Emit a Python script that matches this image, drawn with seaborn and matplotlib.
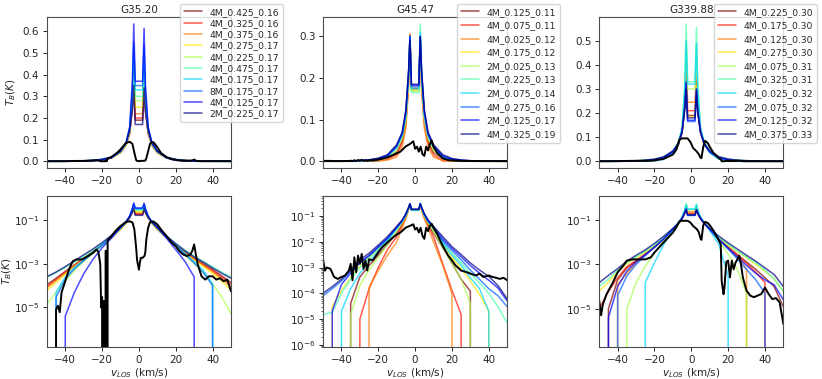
import matplotlib
matplotlib.use("Agg")
import matplotlib.pyplot as plt
import numpy as np
import pandas as pd
import seaborn as sns
from matplotlib.ticker import NullLocator

# velocity grid shared by the model spectra (km/s)
V_MODEL = [-50, -45, -40, -35, -30, -25, -20, -15, -10, -7, -5, -3.5, -2.8, -2, 0,
           2, 2.8, 3.5, 5, 7, 10, 15, 20, 25, 30, 35, 40, 45, 50]

# ---- G35.20 ----
G35_NAMES = ["4M_0.425_0.16", "4M_0.325_0.16", "4M_0.375_0.16", "4M_0.275_0.17", "4M_0.225_0.17",
             "4M_0.475_0.17", "4M_0.175_0.17", "8M_0.175_0.17", "4M_0.125_0.17", "2M_0.225_0.17"]
G35_MODELS = [
    [1.1e-4, 2.2e-4, 4.5e-4, 9e-4, 1.8e-3, 3.6e-3, 7.5e-3, 1.6e-2, 4e-2, 7.5e-2, 0.13, 0.25, 0.40, 0.19, 0.19,
     0.19, 0.39, 0.24, 0.13, 0.075, 0.04, 1.6e-2, 7e-3, 3.4e-3, 1.8e-3, 1e-3, 5.5e-4, 2.8e-4, 1.4e-4],
    [9e-5, 1.9e-4, 4e-4, 8.5e-4, 1.7e-3, 3.5e-3, 7.3e-3, 1.6e-2, 4e-2, 7.5e-2, 0.13, 0.26, 0.42, 0.20, 0.20,
     0.20, 0.41, 0.25, 0.13, 0.075, 0.04, 1.6e-2, 6.8e-3, 3.3e-3, 1.7e-3, 9e-4, 4.8e-4, 2.4e-4, 1.1e-4],
    [8e-5, 1.7e-4, 3.7e-4, 8e-4, 1.6e-3, 3.4e-3, 7.2e-3, 1.6e-2, 4e-2, 7.6e-2, 0.135, 0.27, 0.44, 0.22, 0.22,
     0.22, 0.43, 0.26, 0.135, 0.076, 0.04, 1.6e-2, 6.7e-3, 3.2e-3, 1.6e-3, 8.5e-4, 4.3e-4, 2e-4, 9e-5],
    [6e-5, 1.4e-4, 3.3e-4, 7.5e-4, 1.5e-3, 3.3e-3, 7.1e-3, 1.6e-2, 4.1e-2, 7.7e-2, 0.14, 0.28, 0.46, 0.25, 0.25,
     0.25, 0.45, 0.27, 0.14, 0.077, 0.041, 1.6e-2, 6.6e-3, 3e-3, 1.5e-3, 7.5e-4, 3.6e-4, 1.6e-4, 6e-5],
    [1.4e-5, 5e-5, 1.6e-4, 5e-4, 1.3e-3, 3e-3, 7e-3, 1.6e-2, 4.2e-2, 7.8e-2, 0.14, 0.29, 0.48, 0.28, 0.28,
     0.28, 0.47, 0.28, 0.14, 0.078, 0.042, 1.6e-2, 6.3e-3, 2.6e-3, 1e-3, 4e-4, 1.2e-4, 3e-5, 5e-6],
    [2.4e-4, 4e-4, 7e-4, 1.2e-3, 2.2e-3, 4.2e-3, 8.5e-3, 1.8e-2, 4.4e-2, 8e-2, 0.145, 0.30, 0.50, 0.30, 0.30,
     0.30, 0.49, 0.29, 0.145, 0.08, 0.044, 1.8e-2, 8.5e-3, 4.2e-3, 2.3e-3, 1.3e-3, 7.5e-4, 4.2e-4, 2.5e-4],
    [0, 5e-5, 2.5e-4, 7e-4, 1.5e-3, 3.4e-3, 7.5e-3, 1.7e-2, 4.5e-2, 8.2e-2, 0.15, 0.32, 0.53, 0.33, 0.33,
     0.33, 0.52, 0.31, 0.15, 0.082, 0.045, 1.7e-2, 7e-3, 3e-3, 1.3e-3, 5e-4, 1.2e-4, 0, 0],
    [0, 3e-5, 2e-4, 6e-4, 1.4e-3, 3.2e-3, 7.3e-3, 1.7e-2, 4.6e-2, 8.4e-2, 0.155, 0.34, 0.55, 0.35, 0.35,
     0.35, 0.54, 0.32, 0.155, 0.084, 0.046, 1.7e-2, 6.8e-3, 2.8e-3, 1.1e-3, 4e-4, 1e-4, 0, 0],
    [0, 0, 4e-6, 5e-5, 3.5e-4, 1.6e-3, 5.5e-3, 1.5e-2, 4.7e-2, 8.6e-2, 0.16, 0.38, 0.635, 0.37, 0.37,
     0.37, 0.615, 0.36, 0.16, 0.086, 0.047, 1.5e-2, 4.5e-3, 1.3e-3, 2.5e-4, 0, 0, 0, 0],
    [2.6e-4, 4.2e-4, 7.5e-4, 1.4e-3, 2.6e-3, 4.8e-3, 9.5e-3, 2e-2, 4.8e-2, 8.5e-2, 0.14, 0.24, 0.35, 0.17, 0.17,
     0.17, 0.34, 0.23, 0.14, 0.085, 0.047, 1.9e-2, 8.5e-3, 4e-3, 2.1e-3, 1.2e-3, 6.5e-4, 3.7e-4, 2.2e-4],
]
G35_OBS_V = [-50, -45.5, -45, -44, -43, -42, -40, -38, -36, -34, -31, -28, -25, -23, -22, -21, -20.5, -20,
             -19.5, -19, -18.5, -18, -17.5, -17, -15, -12, -10, -7, -5, -3.5, -2.5, -1.5, -1, 0, 0.5, 1, 2,
             3, 3.5, 4, 5, 6, 7, 8, 10, 12, 15, 18, 20, 22, 24, 26, 28, 29, 30, 31, 32, 34, 36, 38, 40, 42,
             44, 46, 48, 50]
G35_OBS_T = [0, 0, 8e-6, 1.2e-5, 6e-6, 5e-5, 1.6e-4, 5.5e-4, 1.3e-3, 1.6e-3, 1.6e-3, 2.2e-3, 3.2e-3, 4.6e-3,
             3.5e-3, 1e-3, 1e-5, 3e-5, 0, 2e-5, 0, 4e-3, 0, 1.2e-2, 1.9e-2, 3.8e-2, 5.5e-2, 0.085, 0.09,
             0.08, 0.04, 5.5e-3, 1.5e-3, 5.4e-4, 1.1e-3, 1.9e-3, 1.9e-3, 2.3e-3, 3.5e-3, 1.3e-2, 4.6e-2,
             0.08, 0.09, 0.087, 0.065, 0.038, 0.019, 9e-3, 6.5e-3, 3.8e-3, 2.7e-3, 2.3e-3, 2.7e-3, 4e-3,
             7.8e-3, 2.5e-3, 9.3e-4, 2.7e-4, 1.9e-4, 2.7e-4, 2.7e-4, 1.9e-4, 2.2e-4, 1.6e-4, 1.9e-4, 5.5e-5]

# ---- G45.47 ----
G45_NAMES = ["4M_0.125_0.11", "4M_0.075_0.11", "4M_0.025_0.12", "4M_0.175_0.12", "2M_0.025_0.13",
             "4M_0.225_0.13", "2M_0.075_0.14", "4M_0.275_0.16", "2M_0.125_0.17", "4M_0.325_0.19"]
G45_MODELS = [
    [0, 0, 0, 4e-5, 4.3e-4, 1.2e-3, 3e-3, 8e-3, 2.2e-2, 5e-2, 0.1, 0.2, 0.305, 0.175, 0.175,
     0.175, 0.29, 0.19, 0.1, 0.05, 2.2e-2, 6e-3, 1.5e-3, 3.5e-4, 1.2e-4, 0, 0, 0, 0],
    [0, 0, 0, 0, 1e-5, 1.5e-4, 1e-3, 5e-3, 1.6e-2, 4.5e-2, 0.09, 0.19, 0.30, 0.175, 0.175,
     0.175, 0.29, 0.18, 0.09, 0.045, 1.6e-2, 1.4e-3, 1.3e-4, 1.5e-5, 0, 0, 0, 0, 0],
    [0, 0, 0, 0, 0, 1.7e-4, 7.7e-4, 3e-3, 1e-2, 3.5e-2, 0.08, 0.18, 0.305, 0.17, 0.17,
     0.17, 0.29, 0.17, 0.08, 0.035, 1e-2, 1.2e-3, 1e-4, 0, 0, 0, 0, 0, 0],
    [0, 3e-5, 1.3e-4, 4e-4, 1.1e-3, 2.4e-3, 5.2e-3, 1.2e-2, 3.2e-2, 6e-2, 0.105, 0.2, 0.295, 0.17, 0.17,
     0.17, 0.295, 0.2, 0.105, 0.06, 3e-2, 8e-3, 2.5e-3, 9e-4, 3e-4, 9e-5, 2e-5, 0, 0],
    [0, 0, 0, 1.5e-5, 2e-4, 8e-4, 2.5e-3, 8e-3, 2.6e-2, 5.5e-2, 0.1, 0.2, 0.3, 0.17, 0.17,
     0.17, 0.3, 0.19, 0.1, 0.055, 2.5e-2, 6e-3, 1.5e-3, 3.5e-4, 4e-5, 0, 0, 0, 0],
    [1.5e-5, 1.8e-5, 1e-4, 3.5e-4, 1e-3, 2.4e-3, 5.5e-3, 1.2e-2, 3.3e-2, 6.2e-2, 0.11, 0.21, 0.30, 0.165, 0.165,
     0.165, 0.33, 0.21, 0.11, 0.062, 3.3e-2, 1e-2, 3.5e-3, 1.5e-3, 6e-4, 2.5e-4, 1e-4, 3e-5, 7e-6],
    [0, 0, 2e-5, 1.5e-4, 6e-4, 1.6e-3, 4.5e-3, 1.1e-2, 3.3e-2, 6.3e-2, 0.11, 0.21, 0.30, 0.175, 0.175,
     0.175, 0.31, 0.21, 0.11, 0.063, 3.3e-2, 9e-3, 3e-3, 1.2e-3, 4e-4, 1.5e-4, 2e-5, 0, 0],
    [8e-5, 1.5e-4, 3e-4, 7e-4, 1.5e-3, 2.8e-3, 6e-3, 1.3e-2, 3.5e-2, 6.5e-2, 0.115, 0.21, 0.30, 0.18, 0.18,
     0.18, 0.30, 0.21, 0.115, 0.065, 3.5e-2, 1.1e-2, 4.5e-3, 2e-3, 8e-4, 3.5e-4, 1.5e-4, 8e-5, 3e-5],
    [0, 2e-5, 2.2e-4, 6e-4, 1.6e-3, 3e-3, 6.5e-3, 1.4e-2, 3.7e-2, 6.8e-2, 0.12, 0.22, 0.30, 0.183, 0.183,
     0.183, 0.30, 0.22, 0.12, 0.068, 3.7e-2, 1.3e-2, 5.5e-3, 2.6e-3, 1.2e-3, 6e-4, 3.2e-4, 1.6e-4, 5e-5],
    [1e-4, 1.8e-4, 3.5e-4, 8e-4, 2e-3, 3.6e-3, 7.5e-3, 1.6e-2, 4e-2, 7e-2, 0.125, 0.22, 0.29, 0.185, 0.185,
     0.185, 0.30, 0.22, 0.125, 0.07, 4e-2, 1.6e-2, 6.5e-3, 3.2e-3, 1.5e-3, 8e-4, 4.5e-4, 2e-4, 6e-5],
]
G45_OBS_V = [-50, -49, -48, -46, -44, -42, -40, -38, -36, -35, -34, -33, -32, -31, -30, -29, -28, -27, -26,
             -25, -23, -20, -18, -15, -12, -10, -8, -5, -3, -1, 0, 1, 2, 3, 4, 5, 6, 7, 8, 9, 10, 12, 15,
             18, 20, 22, 25, 28, 30, 33, 35, 37, 40, 42, 44, 46, 48, 50]
G45_OBS_T = [2.1e-3, 7.6e-4, 1e-3, 8.9e-4, 4.3e-4, 3.6e-4, 4.3e-4, 4.9e-4, 7.6e-4, 1.4e-3, 3.2e-4, 2.5e-3,
             6.6e-4, 2.9e-3, 1.4e-3, 3.4e-3, 8.9e-4, 1.9e-3, 7.6e-4, 2.1e-3, 1.9e-3, 3.9e-3, 6e-3, 9.5e-3,
             1.5e-2, 1.9e-2, 2.3e-2, 3.6e-2, 4.1e-2, 4.8e-2, 3e-2, 3.5e-2, 2.3e-2, 3.5e-2, 1.7e-2, 1.3e-2,
             3.5e-2, 2.6e-2, 4.1e-2, 5e-2, 3.5e-2, 2e-2, 7e-3, 2.9e-3, 1.9e-3, 1.2e-3, 7.6e-4, 6.6e-4,
             5.8e-4, 4.9e-4, 5.8e-4, 4.3e-4, 4.9e-4, 4.3e-4, 4e-4, 3.6e-4, 4e-4, 3.2e-4]

# ---- G339.88 ----
G339_NAMES = ["4M_0.225_0.30", "4M_0.175_0.30", "4M_0.125_0.30", "4M_0.275_0.30", "4M_0.075_0.31",
              "4M_0.325_0.31", "4M_0.025_0.32", "2M_0.075_0.32", "2M_0.125_0.32", "4M_0.375_0.33"]
G339_MODELS = [
    [0, 1e-5, 2e-4, 7e-4, 1.4e-3, 2.8e-3, 6e-3, 1.4e-2, 3.8e-2, 7e-2, 0.12, 0.22, 0.30, 0.19, 0.19,
     0.19, 0.29, 0.21, 0.12, 0.07, 3.8e-2, 1.4e-2, 6e-3, 2.8e-3, 1.3e-3, 6e-4, 2.5e-4, 1e-4, 1.2e-5],
    [1e-5, 6e-5, 2.5e-4, 8e-4, 1.5e-3, 3e-3, 6.2e-3, 1.4e-2, 3.8e-2, 7e-2, 0.12, 0.24, 0.36, 0.21, 0.21,
     0.21, 0.34, 0.22, 0.12, 0.07, 3.8e-2, 1.4e-2, 6e-3, 2.6e-3, 1.1e-3, 4.5e-4, 1.5e-4, 0, 0],
    [0, 0, 1.2e-4, 4e-4, 1.2e-3, 2.7e-3, 6e-3, 1.4e-2, 3.9e-2, 7.2e-2, 0.125, 0.26, 0.42, 0.245, 0.245,
     0.245, 0.36, 0.25, 0.125, 0.072, 3.9e-2, 1.4e-2, 5.5e-3, 2.2e-3, 6e-4, 0, 0, 0, 0],
    [6e-5, 1.6e-4, 4.5e-4, 1.1e-3, 2e-3, 3.6e-3, 7e-3, 1.5e-2, 3.9e-2, 7.2e-2, 0.125, 0.23, 0.33, 0.185, 0.185,
     0.185, 0.31, 0.21, 0.125, 0.072, 3.9e-2, 1.5e-2, 7.5e-3, 3.8e-3, 2e-3, 1e-3, 5e-4, 2.2e-4, 6e-5],
    [0, 0, 0, 1e-5, 1.5e-4, 8e-4, 3.5e-3, 1.2e-2, 3.8e-2, 7.5e-2, 0.13, 0.3, 0.5, 0.3, 0.3,
     0.3, 0.48, 0.29, 0.13, 0.075, 3.8e-2, 1.2e-2, 3e-3, 6e-4, 5e-5, 0, 0, 0, 0],
    [1e-4, 2.2e-4, 5.5e-4, 1.2e-3, 2.2e-3, 4e-3, 8e-3, 1.7e-2, 4.2e-2, 8e-2, 0.14, 0.33, 0.57, 0.33, 0.33,
     0.33, 0.555, 0.32, 0.14, 0.08, 4.2e-2, 1.7e-2, 8e-3, 4e-3, 2.2e-3, 1.2e-3, 5.5e-4, 2.2e-4, 6e-5],
    [0, 0, 0, 0, 0, 1.5e-4, 1.2e-3, 8e-3, 3.5e-2, 7.5e-2, 0.135, 0.3, 0.5, 0.32, 0.32,
     0.32, 0.49, 0.3, 0.135, 0.075, 3.5e-2, 8e-3, 3e-4, 0, 0, 0, 0, 0, 0],
    [0, 0, 4e-5, 3e-4, 1e-3, 2.5e-3, 6e-3, 1.4e-2, 3.9e-2, 7.2e-2, 0.125, 0.23, 0.32, 0.165, 0.165,
     0.165, 0.3, 0.21, 0.125, 0.072, 3.8e-2, 1.3e-2, 5e-3, 1.8e-3, 6e-4, 2e-4, 5e-5, 0, 0],
    [0, 4e-6, 1e-4, 5e-4, 1.3e-3, 2.8e-3, 6.2e-3, 1.45e-2, 4e-2, 7.3e-2, 0.125, 0.23, 0.33, 0.17, 0.17,
     0.17, 0.3, 0.21, 0.125, 0.073, 4e-2, 1.4e-2, 5.5e-3, 2.2e-3, 9e-4, 4e-4, 2e-4, 1.2e-4, 2.5e-5],
    [1.5e-4, 3.2e-4, 6.5e-4, 1.4e-3, 2.6e-3, 4.6e-3, 9e-3, 1.9e-2, 4.3e-2, 7.5e-2, 0.12, 0.22, 0.30, 0.18, 0.18,
     0.18, 0.29, 0.2, 0.12, 0.075, 4.3e-2, 1.9e-2, 9.5e-3, 5e-3, 2.6e-3, 1.4e-3, 7e-4, 3.5e-4, 1e-4],
]
G339_OBS_V = [-50, -49, -48, -46, -43, -40, -37, -35, -32, -28, -25, -22, -20, -15, -10, -8, -6.5, -5, -2,
              -0.5, 1, 3, 4, 5, 5.5, 6.5, 7.5, 9, 10, 12, 15, 16, 16.5, 17.5, 18, 19, 20, 21, 22, 23, 24,
              25, 26, 27, 28, 30, 32, 34, 36, 38, 40, 42, 44, 46, 48, 50]
G339_OBS_T = [2.3e-5, 5e-6, 1.6e-5, 4.6e-5, 1.3e-4, 4.4e-4, 8.7e-4, 1.5e-3, 1.7e-3, 1.7e-3, 1.7e-3, 2.1e-3,
              3.5e-3, 1e-2, 2.8e-2, 5e-2, 0.09, 0.095, 0.095, 0.08, 0.055, 0.04, 0.03, 0.015, 0.013, 0.06,
              0.085, 0.075, 0.06, 0.035, 0.012, 8e-3, 1.8e-4, 4.5e-5, 9e-5, 1.3e-3, 1.5e-3, 2.6e-4, 1.5e-3,
              6e-4, 1.2e-3, 1.7e-3, 2.5e-3, 1e-3, 2.6e-4, 6.5e-5, 3.9e-5, 3.3e-5, 3.9e-5, 4.6e-5, 9e-5,
              4.6e-5, 2.7e-5, 3e-5, 1.9e-5, 2e-6]

TITLES = ["G35.20", "G45.47", "G339.88"]
LOG_YLIMS = [(1.5e-7, 1.3), (8e-7, 0.6), (1.8e-7, 1.25)]
LOG_TICKS = [[1e-1, 1e-3, 1e-5], [1e-1, 1e-2, 1e-3, 1e-4, 1e-5, 1e-6], [1e-1, 1e-3, 1e-5]]

sns.set_theme(style="ticks", rc={
    "xtick.labelsize": 7.5, "ytick.labelsize": 7.5, "axes.labelsize": 7.5, "axes.titlesize": 7.5,
    "legend.fontsize": 6.6, "axes.edgecolor": "0.3", "axes.linewidth": 0.8,
    "xtick.major.size": 3, "ytick.major.size": 3, "xtick.major.width": 0.7, "ytick.major.width": 0.7,
    "xtick.minor.size": 1.8, "ytick.minor.size": 1.8, "ytick.minor.width": 0.5,
    "xtick.major.pad": 2.5, "ytick.major.pad": 2.5, "axes.labelpad": 1.5,
})
plt.rcParams["font.family"] = ["DejaVu Sans"]

colors = [tuple(c) for c in plt.cm.jet(np.linspace(1, 0, 10))]


def model_frame(names, models):
    parts = [pd.DataFrame({"v": V_MODEL, "T": vals, "model": name}) for name, vals in zip(names, models)]
    return pd.concat(parts, ignore_index=True)


fig, axes = plt.subplots(2, 3, figsize=(8.22, 3.79), dpi=100)
fig.subplots_adjust(left=0.057, right=0.953, bottom=0.084, top=0.955, wspace=0.5, hspace=0.185)

sources = [
    (G35_NAMES, G35_MODELS, G35_OBS_V, G35_OBS_T),
    (G45_NAMES, G45_MODELS, G45_OBS_V, G45_OBS_T),
    (G339_NAMES, G339_MODELS, G339_OBS_V, G339_OBS_T),
]
legend_xy = [(180 / 822, 1 - 4 / 379), (457 / 822, 1 - 4 / 379), (714 / 822, 1 - 4 / 379)]
legend_spacing = [0.25, 0.5, 0.5]

for col, (names, models, obs_v, obs_t) in enumerate(sources):
    df = model_frame(names, models)
    obs = pd.DataFrame({"v": obs_v, "T": obs_t})
    for row in range(2):
        ax = axes[row, col]
        sns.lineplot(data=df, x="v", y="T", hue="model", hue_order=names, palette=colors,
                     estimator=None, sort=False, lw=1.1, alpha=0.7, ax=ax, legend=(row == 0))
        sns.lineplot(data=obs, x="v", y="T", color="black", lw=1.4, estimator=None, sort=False, ax=ax)
        ax.set_xlim(-50, 50)
        ax.set_xticks([-40, -20, 0, 20, 40])
        ax.set_xlabel("")
        ax.set_ylabel("")
        if row == 1:
            ax.set_yscale("log")
            ax.set_ylim(*LOG_YLIMS[col])
            ax.set_yticks(LOG_TICKS[col])
            if col != 1:
                ax.yaxis.set_minor_locator(NullLocator())
            ax.set_xlabel("$v_{LOS}$ (km/s)")
        else:
            ax.set_title(TITLES[col], pad=3)
            sns.move_legend(ax, "upper left", bbox_to_anchor=legend_xy[col],
                            bbox_transform=fig.transFigure, title=None, borderaxespad=0,
                            labelspacing=legend_spacing[col], handlelength=2.0, frameon=True)
        if col == 0:
            ax.set_ylabel("$T_B(K)$")
            ax.yaxis.set_label_coords(-0.155 if row == 0 else -0.18, 0.5)

fig.savefig("out.png", dpi=100)
